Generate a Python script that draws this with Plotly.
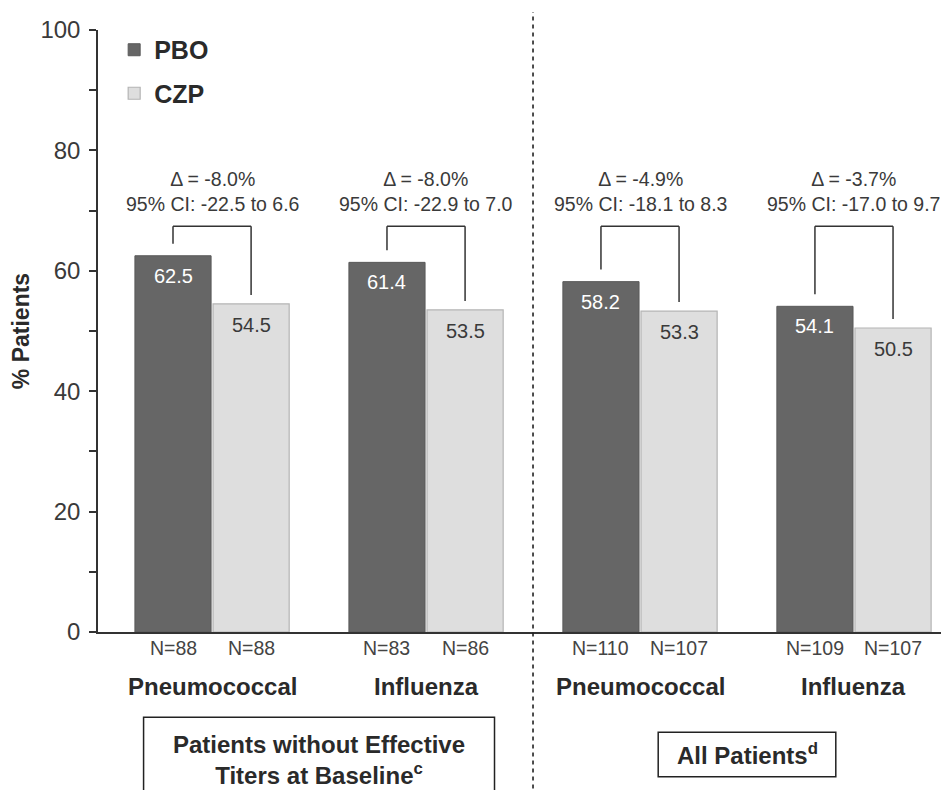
import plotly.graph_objects as go

groups = ["Pneumococcal", "Influenza", "Pneumococcal", "Influenza"]
pbo = [62.5, 61.4, 58.2, 54.1]
czp = [54.5, 53.5, 53.3, 50.5]
n_pbo = ["N=88", "N=83", "N=110", "N=109"]
n_czp = ["N=88", "N=86", "N=107", "N=107"]
deltas = ["Δ = -8.0%", "Δ = -8.0%", "Δ = -4.9%", "Δ = -3.7%"]
cis = ["95% CI: -22.5 to 6.6", "95% CI: -22.9 to 7.0", "95% CI: -18.1 to 8.3", "95% CI: -17.0 to 9.7"]
section_labels = ["Patients without Effective<br>Titers at Baseline<sup>c</sup>", "All Patients<sup>d</sup>"]

FONT = "Arial, Liberation Sans, sans-serif"
DARK = "#666666"
LIGHT = "#dedede"
TXT = "#3a3a3a"

x = list(range(len(groups)))
bargap = 0.27
bargroupgap = 0.025
half = (1 - bargap) / 4  # offset of each bar center from group center

fig = go.Figure()
fig.add_trace(go.Bar(x=x, y=pbo, name="PBO", marker=dict(color=DARK, line=dict(color="#5a5a5a", width=1)),
                     legendgroup="a"))
fig.add_trace(go.Bar(x=x, y=czp, name="CZP", marker=dict(color=LIGHT, line=dict(color="#b4b4b4", width=1.2)),
                     legendgroup="b"))

shapes = []
annots = []
top = 67.4
for i in x:
    xl = i - half
    xr = i + half
    shapes.append(dict(type="line", xref="x", yref="y", x0=xl, x1=xl, y0=pbo[i] + 2, y1=top,
                       line=dict(color="#333", width=1.5)))
    shapes.append(dict(type="line", xref="x", yref="y", x0=xl, x1=xr, y0=top, y1=top,
                       line=dict(color="#333", width=1.5)))
    shapes.append(dict(type="line", xref="x", yref="y", x0=xr, x1=xr, y0=czp[i] + 1.5, y1=top,
                       line=dict(color="#333", width=1.5)))
    annots.append(dict(x=i, y=top, yshift=9, text=deltas[i] + "<br>" + cis[i], showarrow=False,
                       xref="x", yref="y", yanchor="bottom", font=dict(size=19.5, color=TXT, family=FONT)))
    annots.append(dict(x=xl, y=pbo[i], yshift=-20, text=f"{pbo[i]:.1f}", showarrow=False, xref="x", yref="y",
                       yanchor="middle", font=dict(size=20, color="white", family=FONT)))
    annots.append(dict(x=xr, y=czp[i], yshift=-21, text=f"{czp[i]:.1f}", showarrow=False, xref="x", yref="y",
                       yanchor="middle", font=dict(size=20, color=TXT, family=FONT)))
    annots.append(dict(x=xl, y=0, yshift=-16, text=n_pbo[i], showarrow=False, xref="x", yref="y",
                       yanchor="middle", font=dict(size=19.5, color="#444", family=FONT)))
    annots.append(dict(x=xr, y=0, yshift=-16, text=n_czp[i], showarrow=False, xref="x", yref="y",
                       yanchor="middle", font=dict(size=19.5, color="#444", family=FONT)))
    annots.append(dict(x=i, y=0, yshift=-54, text=f"<b>{groups[i]}</b>", showarrow=False, xref="x", yref="y",
                       yanchor="middle", font=dict(size=24, color="#2a2a2a", family=FONT)))

shapes.append(dict(type="line", xref="x", yref="paper", x0=1.5, x1=1.5, y0=-0.3, y1=1.03,
                   line=dict(color="#222", width=1.6, dash="4px,4px")))

shapes.append(dict(type="rect", xref="x", yref="paper", x0=0.5 - 0.82, x1=0.5 + 0.82, y0=-0.3, y1=-0.1417,
                   line=dict(color="#222", width=1.5)))
shapes.append(dict(type="rect", xref="x", yref="paper", x0=2.5 - 0.415, x1=2.5 + 0.415, y0=-0.2405, y1=-0.1664,
                   line=dict(color="#222", width=1.5)))
annots.append(dict(x=0.5, y=-0.2134, xref="x", yref="paper", yanchor="middle", text=f"<b>{section_labels[0]}</b>",
                   showarrow=False, font=dict(size=24, color="#2a2a2a", family=FONT)))
annots.append(dict(x=2.5, y=-0.2034, xref="x", yref="paper", yanchor="middle", text=f"<b>{section_labels[1]}</b>",
                   showarrow=False, font=dict(size=24, color="#2a2a2a", family=FONT)))

fig.update_layout(
    width=949, height=790,
    margin=dict(l=90, r=8, t=17, b=166),
    plot_bgcolor="white", paper_bgcolor="white",
    barmode="group", bargap=bargap, bargroupgap=bargroupgap,
    font=dict(family=FONT, color=TXT),
    shapes=shapes, annotations=annots,
    showlegend=True,
    legend=dict(x=0.019, y=1.005, xanchor="left", yanchor="top", bgcolor="rgba(0,0,0,0)",
                font=dict(size=25, color="#2a2a2a", family=FONT, weight="bold"), traceorder="grouped",
                tracegroupgap=8, itemwidth=30),
    xaxis=dict(range=[-0.533, 3.444], showticklabels=False, ticks="", showgrid=False, zeroline=False,
               showline=True, linecolor="#333", linewidth=1.5),
    yaxis=dict(range=[0, 100], tickvals=[0, 20, 40, 60, 80, 100], ticks="outside", ticklen=7,
               tickcolor="#333", tickwidth=1.5, showgrid=False, zeroline=False,
               showline=True, linecolor="#333", linewidth=1.5, ticklabelstandoff=4,
               tickfont=dict(size=24, color="#3a3a3a", family=FONT),
               minor=dict(tickvals=[10, 30, 50, 70, 90], ticks="outside", ticklen=7, tickcolor="#333", tickwidth=1.5),
               title=dict(text="<b>% Patients</b>", font=dict(size=23, color="#2a2a2a", family=FONT), standoff=6)),
)

fig.write_html("out.html")
